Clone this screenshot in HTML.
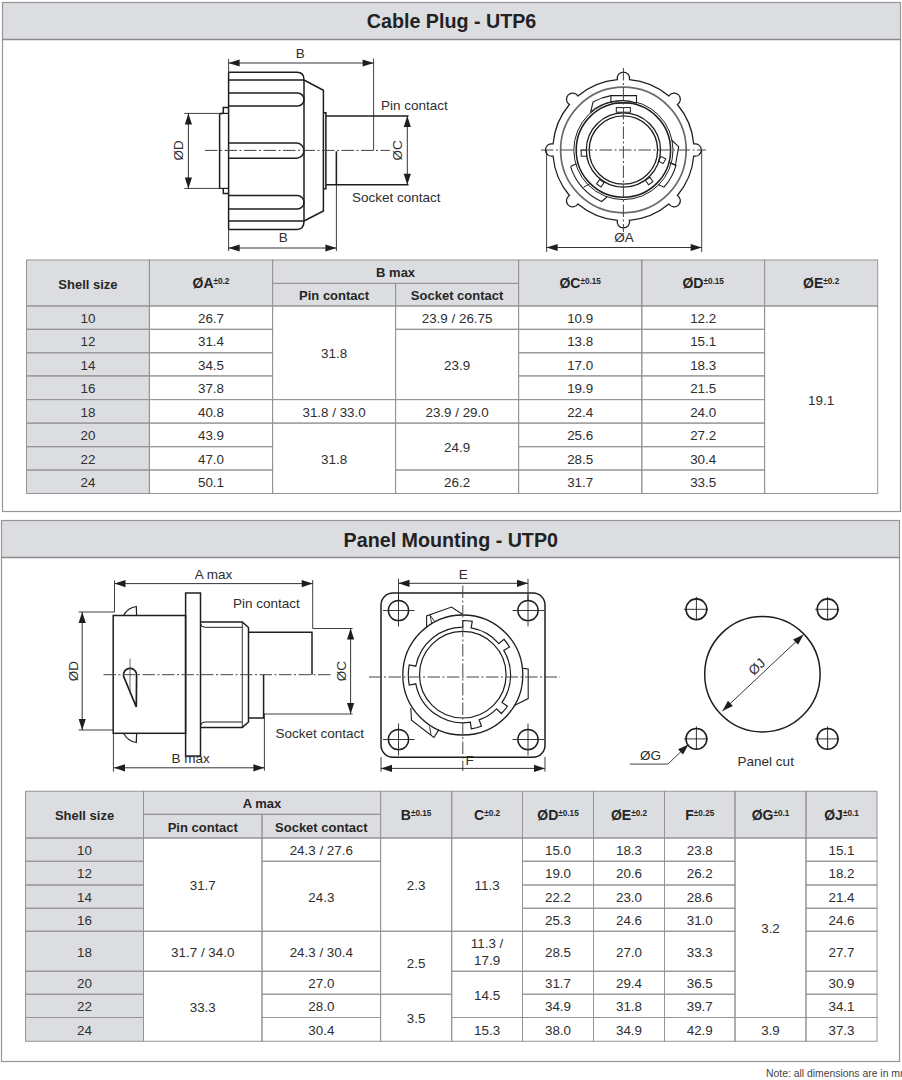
<!DOCTYPE html>
<html><head><meta charset="utf-8"><style>
html,body{margin:0;padding:0;background:#fff;width:902px;height:1080px;overflow:hidden}
svg{display:block;font-family:"Liberation Sans", sans-serif}
</style></head><body>
<svg width="902" height="1080" viewBox="0 0 902 1080">
<rect x="0" y="0" width="902" height="1080" fill="#fff" stroke="none" stroke-width="1" rx="0" />
<rect x="2.5" y="2.5" width="898" height="37" fill="#dcdde0" stroke="none" stroke-width="1" rx="0" />
<rect x="2.5" y="2.5" width="898" height="509" fill="none" stroke="#969696" stroke-width="1.2" rx="0" />
<line x1="2.5" y1="39.5" x2="900.5" y2="39.5" stroke="#8a8a8a" stroke-width="1.3" />
<text x="451.5" y="28" font-size="19.7" font-weight="700" text-anchor="middle" fill="#222" >Cable Plug - UTP6</text>
<rect x="1.5" y="520.5" width="898" height="37" fill="#dcdde0" stroke="none" stroke-width="1" rx="0" />
<rect x="1.5" y="520.5" width="898" height="541" fill="none" stroke="#969696" stroke-width="1.2" rx="0" />
<line x1="1.5" y1="557.5" x2="899.5" y2="557.5" stroke="#8a8a8a" stroke-width="1.3" />
<text x="450.8" y="546.5" font-size="19.7" font-weight="700" text-anchor="middle" fill="#222" >Panel Mounting - UTP0</text>
<path d="M219.6,188.4 L219.6,114.4 Q219.6,113.4 220.6,113.4 L223.3,113.4" stroke="#1e1e1e" stroke-width="1.5" fill="none" />
<path d="M223.3,113.4 L223.3,107.6 L228.6,107.6" stroke="#1e1e1e" stroke-width="1.5" fill="none" />
<path d="M223.3,188.4 L223.3,193.5 L228.6,193.5" stroke="#1e1e1e" stroke-width="1.5" fill="none" />
<line x1="219.6" y1="188.4" x2="228.6" y2="188.4" stroke="#1e1e1e" stroke-width="1.2" />
<line x1="220.6" y1="113.4" x2="228.6" y2="113.4" stroke="#1e1e1e" stroke-width="1.2" />
<line x1="228.6" y1="72.3" x2="228.6" y2="229.4" stroke="#1e1e1e" stroke-width="1.5" />
<path d="M228.6,72.3 L297,72.3 Q304,72.3 304,80 L228.6,80" stroke="#1e1e1e" stroke-width="1.5" fill="none" />
<path d="M228.6,229.4 L297,229.4 Q304,229.4 304,221 L228.6,221" stroke="#1e1e1e" stroke-width="1.5" fill="none" />
<path d="M228.6,93 L297.5,93 A6.5,6.5 0 0 1 297.5,106 L228.6,106" stroke="#1e1e1e" stroke-width="1.5" fill="none" />
<path d="M228.6,143 L296.35,143 A7.65,7.65 0 0 1 296.35,158.3 L228.6,158.3" stroke="#1e1e1e" stroke-width="1.5" fill="none" />
<path d="M228.6,195.5 L297.25,195.5 A6.75,6.75 0 0 1 297.25,209 L228.6,209" stroke="#1e1e1e" stroke-width="1.5" fill="none" />
<line x1="304" y1="80" x2="304" y2="221" stroke="#1e1e1e" stroke-width="1.5" />
<path d="M304,80 L323.4,90.3 L323.4,211 L304,221" stroke="#1e1e1e" stroke-width="1.5" fill="none" />
<path d="M323.4,112.7 L325.9,112.7 L325.9,188.8 L323.4,188.8" stroke="#1e1e1e" stroke-width="1.5" fill="none" />
<line x1="325.9" y1="116" x2="408.5" y2="116" stroke="#1e1e1e" stroke-width="1.5" />
<line x1="325.9" y1="184.7" x2="408.5" y2="184.7" stroke="#1e1e1e" stroke-width="1.5" />
<line x1="373.6" y1="58.6" x2="373.6" y2="150.4" stroke="#1e1e1e" stroke-width="0.85" />
<line x1="336.4" y1="151.5" x2="336.4" y2="251" stroke="#1e1e1e" stroke-width="0.85" />
<line x1="336.4" y1="151.5" x2="336.4" y2="184.7" stroke="#1e1e1e" stroke-width="1.5" />
<line x1="205" y1="150.4" x2="390" y2="150.4" stroke="#444" stroke-width="1.0" stroke-dasharray="12.5 2.5 2 2.5"/>
<line x1="184.3" y1="113.4" x2="219.6" y2="113.4" stroke="#1e1e1e" stroke-width="0.85" />
<line x1="184.3" y1="188.4" x2="219.6" y2="188.4" stroke="#1e1e1e" stroke-width="0.85" />
<line x1="188.4" y1="113.4" x2="188.4" y2="188.4" stroke="#1e1e1e" stroke-width="0.9" />
<path d="M188.4,113.4 L192,124.4 L184.8,124.4 Z" fill="#1e1e1e" stroke="none"/>
<path d="M188.4,188.4 L184.8,177.4 L192,177.4 Z" fill="#1e1e1e" stroke="none"/>
<text x="183.2" y="150.4" font-size="13.5" font-weight="400" text-anchor="middle" fill="#2e2e2e" transform="rotate(-90 183.2 150.4)">ØD</text>
<line x1="407.3" y1="116" x2="407.3" y2="184.7" stroke="#1e1e1e" stroke-width="0.9" />
<path d="M407.3,116 L410.9,127 L403.7,127 Z" fill="#1e1e1e" stroke="none"/>
<path d="M407.3,184.7 L403.7,173.7 L410.9,173.7 Z" fill="#1e1e1e" stroke="none"/>
<text x="402.2" y="150.4" font-size="13.5" font-weight="400" text-anchor="middle" fill="#2e2e2e" transform="rotate(-90 402.2 150.4)">ØC</text>
<line x1="228.6" y1="59" x2="228.6" y2="72.3" stroke="#1e1e1e" stroke-width="0.85" />
<line x1="228.6" y1="63" x2="373.6" y2="63" stroke="#1e1e1e" stroke-width="0.9" />
<path d="M228.6,63 L239.6,59.4 L239.6,66.6 Z" fill="#1e1e1e" stroke="none"/>
<path d="M373.6,63 L362.6,66.6 L362.6,59.4 Z" fill="#1e1e1e" stroke="none"/>
<text x="300.2" y="58" font-size="13.5" font-weight="400" text-anchor="middle" fill="#2e2e2e" >B</text>
<line x1="228.6" y1="229.4" x2="228.6" y2="251" stroke="#1e1e1e" stroke-width="0.85" />
<line x1="228.6" y1="248" x2="336.4" y2="248" stroke="#1e1e1e" stroke-width="0.9" />
<path d="M228.6,248 L239.6,244.4 L239.6,251.6 Z" fill="#1e1e1e" stroke="none"/>
<path d="M336.4,248 L325.4,251.6 L325.4,244.4 Z" fill="#1e1e1e" stroke="none"/>
<text x="283.3" y="241.6" font-size="13.5" font-weight="400" text-anchor="middle" fill="#2e2e2e" >B</text>
<text x="381" y="110" font-size="13.5" font-weight="400" text-anchor="start" fill="#2e2e2e" >Pin contact</text>
<text x="352" y="201.7" font-size="13.5" font-weight="400" text-anchor="start" fill="#2e2e2e" >Socket contact</text>
<path d="M617.37,79.66 A6.2,6.2 0 1 1 629.43,79.66 A70.6,70.6 0 0 1 668.88,96 A6.2,6.2 0 1 1 677.4,104.52 A70.6,70.6 0 0 1 693.74,143.97 A6.2,6.2 0 1 1 693.74,156.03 A70.6,70.6 0 0 1 677.4,195.48 A6.2,6.2 0 1 1 668.88,204 A70.6,70.6 0 0 1 629.43,220.34 A6.2,6.2 0 1 1 617.37,220.34 A70.6,70.6 0 0 1 577.92,204 A6.2,6.2 0 1 1 569.4,195.48 A70.6,70.6 0 0 1 553.06,156.03 A6.2,6.2 0 1 1 553.06,143.97 A70.6,70.6 0 0 1 569.4,104.52 A6.2,6.2 0 1 1 577.92,96 A70.6,70.6 0 0 1 617.37,79.66 Z" stroke="#1e1e1e" stroke-width="1.25" fill="none" />
<circle cx="623.4" cy="150" r="62.8" stroke="#6a6a6a" stroke-width="1.7" fill="none" />
<circle cx="623.4" cy="150" r="49.6" stroke="#1e1e1e" stroke-width="1.0" fill="none" />
<circle cx="623.4" cy="150" r="37.1" stroke="#1e1e1e" stroke-width="1.3" fill="none" />
<circle cx="623.4" cy="150" r="34.2" stroke="#1e1e1e" stroke-width="1.3" fill="none" />
<path d="M590.7,111.8 L593,102 A55,55 0 0 1 610.9,95.6 L636.5,95.6 L636.5,103 A48,48 0 0 0 590.7,111.8 Z" stroke="#1e1e1e" stroke-width="1.1" fill="#fff" />
<circle cx="623.4" cy="150" r="47.2" stroke="#1e1e1e" stroke-width="1.5" fill="none" />
<line x1="610.9" y1="95.6" x2="610.9" y2="103" stroke="#1e1e1e" stroke-width="1.1" />
<line x1="610.9" y1="103" x2="636.5" y2="103" stroke="#1e1e1e" stroke-width="1.0" />
<rect x="616.3" y="107.6" width="14.1" height="4.6" fill="none" stroke="#1e1e1e" stroke-width="1.0" rx="0" />
<rect x="581.2" y="150.2" width="5.3" height="6" fill="none" stroke="#1e1e1e" stroke-width="1.0" rx="0" />
<rect x="597.6" y="180.5" width="5.4" height="5.4" fill="none" stroke="#1e1e1e" stroke-width="1.0" rx="0" transform="rotate(35 600.3 183.2)"/>
<rect x="646.5" y="178.3" width="5.4" height="5.4" fill="none" stroke="#1e1e1e" stroke-width="1.0" rx="0" transform="rotate(-35 649.2 181)"/>
<rect x="659.4" y="157.3" width="5.4" height="5.4" fill="none" stroke="#1e1e1e" stroke-width="1.0" rx="0" transform="rotate(-60 662.1 160)"/>
<path d="M570.6,166.6 L576.3,163.7 M570.6,166.6 A56,56 0 0 0 601.52,201.55 L606.9,197.2" stroke="#1e1e1e" stroke-width="1.1" fill="none" />
<line x1="583.6" y1="187.2" x2="589.6" y2="183.9" stroke="#1e1e1e" stroke-width="1.0" />
<path d="M670,162.6 L676,165.3 A56,56 0 0 1 664,187.2 L658,184.6" stroke="#1e1e1e" stroke-width="1.1" fill="none" />
<path d="M671.4,140 L678.7,146.7 L675.4,165.3 L670.8,163.3" stroke="#1e1e1e" stroke-width="1.1" fill="none" />
<line x1="623.4" y1="68" x2="623.4" y2="232" stroke="#444" stroke-width="1.0" stroke-dasharray="12.5 2.5 2 2.5"/>
<line x1="541" y1="150" x2="706" y2="150" stroke="#444" stroke-width="1.0" stroke-dasharray="12.5 2.5 2 2.5"/>
<line x1="546.6" y1="150" x2="546.6" y2="252" stroke="#1e1e1e" stroke-width="0.85" />
<line x1="701.7" y1="150" x2="701.7" y2="252" stroke="#1e1e1e" stroke-width="0.85" />
<line x1="546.6" y1="247.5" x2="701.7" y2="247.5" stroke="#1e1e1e" stroke-width="0.9" />
<path d="M546.6,247.5 L557.6,243.9 L557.6,251.1 Z" fill="#1e1e1e" stroke="none"/>
<path d="M701.7,247.5 L690.7,251.1 L690.7,243.9 Z" fill="#1e1e1e" stroke="none"/>
<text x="624" y="241.5" font-size="13.5" font-weight="400" text-anchor="middle" fill="#2e2e2e" >ØA</text>
<rect x="26.5" y="260" width="851.2" height="46" fill="#dcdde0" stroke="none" stroke-width="1" rx="0" />
<rect x="26.5" y="306" width="122.9" height="187.5" fill="#dcdde0" stroke="none" stroke-width="1" rx="0" />
<rect x="26.5" y="260" width="122.9" height="46" fill="none" stroke="#949494" stroke-width="1.0" rx="0" />
<rect x="149.4" y="260" width="123.2" height="46" fill="none" stroke="#949494" stroke-width="1.0" rx="0" />
<rect x="272.6" y="260" width="246" height="23.4" fill="none" stroke="#949494" stroke-width="1.0" rx="0" />
<rect x="272.6" y="283.4" width="123" height="22.6" fill="none" stroke="#949494" stroke-width="1.0" rx="0" />
<rect x="395.6" y="283.4" width="123" height="22.6" fill="none" stroke="#949494" stroke-width="1.0" rx="0" />
<rect x="518.6" y="260" width="123.2" height="46" fill="none" stroke="#949494" stroke-width="1.0" rx="0" />
<rect x="641.8" y="260" width="122.8" height="46" fill="none" stroke="#949494" stroke-width="1.0" rx="0" />
<rect x="764.6" y="260" width="113.1" height="46" fill="none" stroke="#949494" stroke-width="1.0" rx="0" />
<rect x="26.5" y="306" width="122.9" height="23.3" fill="none" stroke="#949494" stroke-width="1.0" rx="0" />
<rect x="149.4" y="306" width="123.2" height="23.3" fill="none" stroke="#949494" stroke-width="1.0" rx="0" />
<rect x="518.6" y="306" width="123.2" height="23.3" fill="none" stroke="#949494" stroke-width="1.0" rx="0" />
<rect x="641.8" y="306" width="122.8" height="23.3" fill="none" stroke="#949494" stroke-width="1.0" rx="0" />
<rect x="26.5" y="329.3" width="122.9" height="23.5" fill="none" stroke="#949494" stroke-width="1.0" rx="0" />
<rect x="149.4" y="329.3" width="123.2" height="23.5" fill="none" stroke="#949494" stroke-width="1.0" rx="0" />
<rect x="518.6" y="329.3" width="123.2" height="23.5" fill="none" stroke="#949494" stroke-width="1.0" rx="0" />
<rect x="641.8" y="329.3" width="122.8" height="23.5" fill="none" stroke="#949494" stroke-width="1.0" rx="0" />
<rect x="26.5" y="352.8" width="122.9" height="23.1" fill="none" stroke="#949494" stroke-width="1.0" rx="0" />
<rect x="149.4" y="352.8" width="123.2" height="23.1" fill="none" stroke="#949494" stroke-width="1.0" rx="0" />
<rect x="518.6" y="352.8" width="123.2" height="23.1" fill="none" stroke="#949494" stroke-width="1.0" rx="0" />
<rect x="641.8" y="352.8" width="122.8" height="23.1" fill="none" stroke="#949494" stroke-width="1.0" rx="0" />
<rect x="26.5" y="375.9" width="122.9" height="23.7" fill="none" stroke="#949494" stroke-width="1.0" rx="0" />
<rect x="149.4" y="375.9" width="123.2" height="23.7" fill="none" stroke="#949494" stroke-width="1.0" rx="0" />
<rect x="518.6" y="375.9" width="123.2" height="23.7" fill="none" stroke="#949494" stroke-width="1.0" rx="0" />
<rect x="641.8" y="375.9" width="122.8" height="23.7" fill="none" stroke="#949494" stroke-width="1.0" rx="0" />
<rect x="26.5" y="399.6" width="122.9" height="23.5" fill="none" stroke="#949494" stroke-width="1.0" rx="0" />
<rect x="149.4" y="399.6" width="123.2" height="23.5" fill="none" stroke="#949494" stroke-width="1.0" rx="0" />
<rect x="518.6" y="399.6" width="123.2" height="23.5" fill="none" stroke="#949494" stroke-width="1.0" rx="0" />
<rect x="641.8" y="399.6" width="122.8" height="23.5" fill="none" stroke="#949494" stroke-width="1.0" rx="0" />
<rect x="26.5" y="423.1" width="122.9" height="23.6" fill="none" stroke="#949494" stroke-width="1.0" rx="0" />
<rect x="149.4" y="423.1" width="123.2" height="23.6" fill="none" stroke="#949494" stroke-width="1.0" rx="0" />
<rect x="518.6" y="423.1" width="123.2" height="23.6" fill="none" stroke="#949494" stroke-width="1.0" rx="0" />
<rect x="641.8" y="423.1" width="122.8" height="23.6" fill="none" stroke="#949494" stroke-width="1.0" rx="0" />
<rect x="26.5" y="446.7" width="122.9" height="23.3" fill="none" stroke="#949494" stroke-width="1.0" rx="0" />
<rect x="149.4" y="446.7" width="123.2" height="23.3" fill="none" stroke="#949494" stroke-width="1.0" rx="0" />
<rect x="518.6" y="446.7" width="123.2" height="23.3" fill="none" stroke="#949494" stroke-width="1.0" rx="0" />
<rect x="641.8" y="446.7" width="122.8" height="23.3" fill="none" stroke="#949494" stroke-width="1.0" rx="0" />
<rect x="26.5" y="470" width="122.9" height="23.5" fill="none" stroke="#949494" stroke-width="1.0" rx="0" />
<rect x="149.4" y="470" width="123.2" height="23.5" fill="none" stroke="#949494" stroke-width="1.0" rx="0" />
<rect x="518.6" y="470" width="123.2" height="23.5" fill="none" stroke="#949494" stroke-width="1.0" rx="0" />
<rect x="641.8" y="470" width="122.8" height="23.5" fill="none" stroke="#949494" stroke-width="1.0" rx="0" />
<rect x="272.6" y="306" width="123" height="93.6" fill="none" stroke="#949494" stroke-width="1.0" rx="0" />
<rect x="272.6" y="399.6" width="123" height="23.5" fill="none" stroke="#949494" stroke-width="1.0" rx="0" />
<rect x="272.6" y="423.1" width="123" height="70.4" fill="none" stroke="#949494" stroke-width="1.0" rx="0" />
<rect x="395.6" y="306" width="123" height="23.3" fill="none" stroke="#949494" stroke-width="1.0" rx="0" />
<rect x="395.6" y="329.3" width="123" height="70.3" fill="none" stroke="#949494" stroke-width="1.0" rx="0" />
<rect x="395.6" y="399.6" width="123" height="23.5" fill="none" stroke="#949494" stroke-width="1.0" rx="0" />
<rect x="395.6" y="423.1" width="123" height="46.9" fill="none" stroke="#949494" stroke-width="1.0" rx="0" />
<rect x="395.6" y="470" width="123" height="23.5" fill="none" stroke="#949494" stroke-width="1.0" rx="0" />
<rect x="764.6" y="306" width="113.1" height="187.5" fill="none" stroke="#949494" stroke-width="1.0" rx="0" />
<text x="87.95" y="288.5" font-size="13" font-weight="700" text-anchor="middle" fill="#262626" >Shell size</text>
<text x="211" y="288.4" font-size="14" font-weight="700" text-anchor="middle" fill="#262626" >ØA<tspan font-size="8.2" dy="-4.4">±0.2</tspan></text>
<text x="395.6" y="277.2" font-size="13" font-weight="700" text-anchor="middle" fill="#262626" >B max</text>
<text x="334.1" y="300.2" font-size="13" font-weight="700" text-anchor="middle" fill="#262626" >Pin contact</text>
<text x="457.1" y="300.2" font-size="13" font-weight="700" text-anchor="middle" fill="#262626" >Socket contact</text>
<text x="580.2" y="288.4" font-size="14" font-weight="700" text-anchor="middle" fill="#262626" >ØC<tspan font-size="8.2" dy="-4.4">±0.15</tspan></text>
<text x="703.2" y="288.4" font-size="14" font-weight="700" text-anchor="middle" fill="#262626" >ØD<tspan font-size="8.2" dy="-4.4">±0.15</tspan></text>
<text x="821.15" y="288.4" font-size="14" font-weight="700" text-anchor="middle" fill="#262626" >ØE<tspan font-size="8.2" dy="-4.4">±0.2</tspan></text>
<text x="87.95" y="322.95" font-size="13.4" font-weight="400" text-anchor="middle" fill="#2e2e2e" >10</text>
<text x="211" y="322.95" font-size="13.4" font-weight="400" text-anchor="middle" fill="#2e2e2e" >26.7</text>
<text x="580.2" y="322.95" font-size="13.4" font-weight="400" text-anchor="middle" fill="#2e2e2e" >10.9</text>
<text x="703.2" y="322.95" font-size="13.4" font-weight="400" text-anchor="middle" fill="#2e2e2e" >12.2</text>
<text x="87.95" y="346.35" font-size="13.4" font-weight="400" text-anchor="middle" fill="#2e2e2e" >12</text>
<text x="211" y="346.35" font-size="13.4" font-weight="400" text-anchor="middle" fill="#2e2e2e" >31.4</text>
<text x="580.2" y="346.35" font-size="13.4" font-weight="400" text-anchor="middle" fill="#2e2e2e" >13.8</text>
<text x="703.2" y="346.35" font-size="13.4" font-weight="400" text-anchor="middle" fill="#2e2e2e" >15.1</text>
<text x="87.95" y="369.65" font-size="13.4" font-weight="400" text-anchor="middle" fill="#2e2e2e" >14</text>
<text x="211" y="369.65" font-size="13.4" font-weight="400" text-anchor="middle" fill="#2e2e2e" >34.5</text>
<text x="580.2" y="369.65" font-size="13.4" font-weight="400" text-anchor="middle" fill="#2e2e2e" >17.0</text>
<text x="703.2" y="369.65" font-size="13.4" font-weight="400" text-anchor="middle" fill="#2e2e2e" >18.3</text>
<text x="87.95" y="393.05" font-size="13.4" font-weight="400" text-anchor="middle" fill="#2e2e2e" >16</text>
<text x="211" y="393.05" font-size="13.4" font-weight="400" text-anchor="middle" fill="#2e2e2e" >37.8</text>
<text x="580.2" y="393.05" font-size="13.4" font-weight="400" text-anchor="middle" fill="#2e2e2e" >19.9</text>
<text x="703.2" y="393.05" font-size="13.4" font-weight="400" text-anchor="middle" fill="#2e2e2e" >21.5</text>
<text x="87.95" y="416.65" font-size="13.4" font-weight="400" text-anchor="middle" fill="#2e2e2e" >18</text>
<text x="211" y="416.65" font-size="13.4" font-weight="400" text-anchor="middle" fill="#2e2e2e" >40.8</text>
<text x="580.2" y="416.65" font-size="13.4" font-weight="400" text-anchor="middle" fill="#2e2e2e" >22.4</text>
<text x="703.2" y="416.65" font-size="13.4" font-weight="400" text-anchor="middle" fill="#2e2e2e" >24.0</text>
<text x="87.95" y="440.2" font-size="13.4" font-weight="400" text-anchor="middle" fill="#2e2e2e" >20</text>
<text x="211" y="440.2" font-size="13.4" font-weight="400" text-anchor="middle" fill="#2e2e2e" >43.9</text>
<text x="580.2" y="440.2" font-size="13.4" font-weight="400" text-anchor="middle" fill="#2e2e2e" >25.6</text>
<text x="703.2" y="440.2" font-size="13.4" font-weight="400" text-anchor="middle" fill="#2e2e2e" >27.2</text>
<text x="87.95" y="463.65" font-size="13.4" font-weight="400" text-anchor="middle" fill="#2e2e2e" >22</text>
<text x="211" y="463.65" font-size="13.4" font-weight="400" text-anchor="middle" fill="#2e2e2e" >47.0</text>
<text x="580.2" y="463.65" font-size="13.4" font-weight="400" text-anchor="middle" fill="#2e2e2e" >28.5</text>
<text x="703.2" y="463.65" font-size="13.4" font-weight="400" text-anchor="middle" fill="#2e2e2e" >30.4</text>
<text x="87.95" y="487.05" font-size="13.4" font-weight="400" text-anchor="middle" fill="#2e2e2e" >24</text>
<text x="211" y="487.05" font-size="13.4" font-weight="400" text-anchor="middle" fill="#2e2e2e" >50.1</text>
<text x="580.2" y="487.05" font-size="13.4" font-weight="400" text-anchor="middle" fill="#2e2e2e" >31.7</text>
<text x="703.2" y="487.05" font-size="13.4" font-weight="400" text-anchor="middle" fill="#2e2e2e" >33.5</text>
<text x="334.1" y="358.1" font-size="13.4" font-weight="400" text-anchor="middle" fill="#2e2e2e" >31.8</text>
<text x="334.1" y="416.65" font-size="13.4" font-weight="400" text-anchor="middle" fill="#2e2e2e" >31.8 / 33.0</text>
<text x="334.1" y="463.6" font-size="13.4" font-weight="400" text-anchor="middle" fill="#2e2e2e" >31.8</text>
<text x="457.1" y="322.95" font-size="13.4" font-weight="400" text-anchor="middle" fill="#2e2e2e" >23.9 / 26.75</text>
<text x="457.1" y="369.75" font-size="13.4" font-weight="400" text-anchor="middle" fill="#2e2e2e" >23.9</text>
<text x="457.1" y="416.65" font-size="13.4" font-weight="400" text-anchor="middle" fill="#2e2e2e" >23.9 / 29.0</text>
<text x="457.1" y="451.85" font-size="13.4" font-weight="400" text-anchor="middle" fill="#2e2e2e" >24.9</text>
<text x="457.1" y="487.05" font-size="13.4" font-weight="400" text-anchor="middle" fill="#2e2e2e" >26.2</text>
<text x="821.15" y="405.05" font-size="13.4" font-weight="400" text-anchor="middle" fill="#2e2e2e" >19.1</text>
<rect x="113.2" y="615.5" width="72.4" height="117.8" fill="none" stroke="#1e1e1e" stroke-width="1.5" rx="0" />
<rect x="185.6" y="593" width="14.9" height="163" fill="none" stroke="#1e1e1e" stroke-width="1.5" rx="0" />
<path d="M200.5,622 L242.3,622 L248.5,627.5 L248.5,722 L242.3,727.4 L200.5,727.4" stroke="#1e1e1e" stroke-width="1.5" fill="none" />
<path d="M200.5,623.5 Q201,627.3 205,627.3 L242.3,627.3" stroke="#1e1e1e" stroke-width="1.0" fill="none" />
<path d="M200.5,725.8 Q201,722 205,722 L242.3,722" stroke="#1e1e1e" stroke-width="1.0" fill="none" />
<line x1="242.3" y1="622" x2="242.3" y2="727.4" stroke="#1e1e1e" stroke-width="0.9" />
<path d="M248.5,632.2 L312,632.2 L312,674.7" stroke="#1e1e1e" stroke-width="1.5" fill="none" />
<path d="M248.5,718 L263.6,718 L263.6,674.7" stroke="#1e1e1e" stroke-width="1.5" fill="none" />
<path d="M123.5,615.5 Q128,607.5 136.3,606.5 L136.6,615.5" stroke="#1e1e1e" stroke-width="1.2" fill="none" />
<path d="M123.5,733.3 Q128,741.5 136.3,742.5 L136.6,733.3" stroke="#1e1e1e" stroke-width="1.2" fill="none" />
<path d="M136.3,707 L136.6,674 A6.5,6.5 0 1 0 123.5,676 Z" stroke="#1e1e1e" stroke-width="1.7" fill="none" />
<line x1="130" y1="658.5" x2="130" y2="694" stroke="#444" stroke-width="0.8" />
<line x1="103.5" y1="674.7" x2="331" y2="674.7" stroke="#444" stroke-width="1.0" stroke-dasharray="12.5 2.5 2 2.5"/>
<path d="M78.6,612 L114.5,612 L114.5,580.4" stroke="#1e1e1e" stroke-width="0.85" fill="none" />
<path d="M312.7,580 L312.7,628.5 L352.6,628.5" stroke="#1e1e1e" stroke-width="0.85" fill="none" />
<line x1="114.5" y1="583.6" x2="312.7" y2="583.6" stroke="#1e1e1e" stroke-width="0.9" />
<path d="M114.5,583.6 L125.5,580 L125.5,587.2 Z" fill="#1e1e1e" stroke="none"/>
<path d="M312.7,583.6 L301.7,587.2 L301.7,580 Z" fill="#1e1e1e" stroke="none"/>
<text x="213.5" y="579" font-size="13.5" font-weight="400" text-anchor="middle" fill="#2e2e2e" >A max</text>
<line x1="78.6" y1="730" x2="113.2" y2="730" stroke="#1e1e1e" stroke-width="0.85" />
<line x1="82.2" y1="612" x2="82.2" y2="730" stroke="#1e1e1e" stroke-width="0.9" />
<path d="M82.2,612 L85.8,623 L78.6,623 Z" fill="#1e1e1e" stroke="none"/>
<path d="M82.2,730 L78.6,719 L85.8,719 Z" fill="#1e1e1e" stroke="none"/>
<text x="77.7" y="671" font-size="13.5" font-weight="400" text-anchor="middle" fill="#2e2e2e" transform="rotate(-90 77.7 671)">ØD</text>
<line x1="263.6" y1="714" x2="352.6" y2="714" stroke="#1e1e1e" stroke-width="0.85" />
<line x1="350.6" y1="628.5" x2="350.6" y2="714" stroke="#1e1e1e" stroke-width="0.9" />
<path d="M350.6,628.5 L354.2,639.5 L347,639.5 Z" fill="#1e1e1e" stroke="none"/>
<path d="M350.6,714 L347,703 L354.2,703 Z" fill="#1e1e1e" stroke="none"/>
<text x="346.3" y="671" font-size="13.5" font-weight="400" text-anchor="middle" fill="#2e2e2e" transform="rotate(-90 346.3 671)">ØC</text>
<line x1="113.4" y1="733.3" x2="113.4" y2="771.7" stroke="#1e1e1e" stroke-width="0.85" />
<line x1="264.4" y1="714" x2="264.4" y2="770.8" stroke="#1e1e1e" stroke-width="0.85" />
<line x1="114" y1="767.8" x2="264.4" y2="767.8" stroke="#1e1e1e" stroke-width="0.9" />
<path d="M114,767.8 L125,764.2 L125,771.4 Z" fill="#1e1e1e" stroke="none"/>
<path d="M264.4,767.8 L253.4,771.4 L253.4,764.2 Z" fill="#1e1e1e" stroke="none"/>
<text x="171.4" y="762.9" font-size="13.5" font-weight="400" text-anchor="start" fill="#2e2e2e" >B max</text>
<text x="233" y="608" font-size="13.5" font-weight="400" text-anchor="start" fill="#2e2e2e" >Pin contact</text>
<text x="275.4" y="737.8" font-size="13.5" font-weight="400" text-anchor="start" fill="#2e2e2e" >Socket contact</text>
<rect x="381" y="593" width="164" height="164.3" fill="none" stroke="#1e1e1e" stroke-width="1.5" rx="12" />
<circle cx="398.5" cy="610.5" r="10.1" stroke="#1e1e1e" stroke-width="1.45" fill="none" />
<line x1="383" y1="610.5" x2="414.5" y2="610.5" stroke="#222" stroke-width="0.9" />
<line x1="398.5" y1="594.5" x2="398.5" y2="626.5" stroke="#222" stroke-width="0.9" />
<circle cx="528" cy="610.5" r="10.1" stroke="#1e1e1e" stroke-width="1.45" fill="none" />
<line x1="512.5" y1="610.5" x2="544" y2="610.5" stroke="#222" stroke-width="0.9" />
<line x1="528" y1="594.5" x2="528" y2="626.5" stroke="#222" stroke-width="0.9" />
<circle cx="398.5" cy="739.5" r="10.1" stroke="#1e1e1e" stroke-width="1.45" fill="none" />
<line x1="383" y1="739.5" x2="414.5" y2="739.5" stroke="#222" stroke-width="0.9" />
<line x1="398.5" y1="723.5" x2="398.5" y2="755.5" stroke="#222" stroke-width="0.9" />
<circle cx="528" cy="739.5" r="10.1" stroke="#1e1e1e" stroke-width="1.45" fill="none" />
<line x1="512.5" y1="739.5" x2="544" y2="739.5" stroke="#222" stroke-width="0.9" />
<line x1="528" y1="723.5" x2="528" y2="755.5" stroke="#222" stroke-width="0.9" />
<circle cx="462.8" cy="675" r="60" stroke="#1e1e1e" stroke-width="1.3" fill="none" />
<path d="M470.28,722.21 L471.33,728.83 A54.5,54.5 0 0 0 481.44,726.21 L479.15,719.92 A47.8,47.8 0 0 0 496.6,708.8 L501.34,713.54 A54.5,54.5 0 0 0 507.44,706.26 L501.96,702.42 A47.8,47.8 0 0 0 503.77,650.38 L509.52,646.93 A54.5,54.5 0 0 0 503.93,639.24 L498.88,643.64 A47.8,47.8 0 0 0 471.1,627.93 L472.26,621.33 A54.5,54.5 0 0 0 462.8,620.5 L462.8,627.2 A47.8,47.8 0 0 0 415.82,666.21 L409.23,664.97 A54.5,54.5 0 0 0 409.23,685.03 L415.82,683.79 A47.8,47.8 0 0 0 470.28,722.21 Z" stroke="#1e1e1e" stroke-width="1.2" fill="none" />
<circle cx="462.8" cy="674.7" r="43.3" stroke="#1e1e1e" stroke-width="1.2" fill="none" />
<path d="M523.2,668.4 L528.2,669 L528.2,698.6 L513.8,705.8" stroke="#1e1e1e" stroke-width="1.1" fill="none" />
<path d="M426.6,626.8 L426.6,616 L451.5,607 L462.7,614.5" stroke="#1e1e1e" stroke-width="1.1" fill="none" />
<line x1="430.1" y1="615.2" x2="431.7" y2="623.7" stroke="#1e1e1e" stroke-width="0.9" />
<line x1="430.1" y1="615.2" x2="434.8" y2="621.8" stroke="#1e1e1e" stroke-width="0.9" />
<path d="M410.8,708 L411.5,720.2 L433.9,737.5 L438.9,729.6" stroke="#1e1e1e" stroke-width="1.1" fill="none" />
<line x1="429.5" y1="726.7" x2="431" y2="734.6" stroke="#1e1e1e" stroke-width="0.9" />
<line x1="462.8" y1="585.5" x2="462.8" y2="771" stroke="#444" stroke-width="1.0" stroke-dasharray="12.5 2.5 2 2.5"/>
<line x1="369" y1="677" x2="560" y2="677" stroke="#444" stroke-width="1.0" stroke-dasharray="12.5 2.5 2 2.5"/>
<line x1="398.5" y1="578.8" x2="398.5" y2="600" stroke="#1e1e1e" stroke-width="0.85" />
<line x1="528" y1="578.8" x2="528" y2="600" stroke="#1e1e1e" stroke-width="0.85" />
<line x1="398.5" y1="583.3" x2="528" y2="583.3" stroke="#1e1e1e" stroke-width="0.9" />
<path d="M398.5,583.3 L409.5,579.7 L409.5,586.9 Z" fill="#1e1e1e" stroke="none"/>
<path d="M528,583.3 L517,586.9 L517,579.7 Z" fill="#1e1e1e" stroke="none"/>
<text x="463.3" y="578.7" font-size="13.5" font-weight="400" text-anchor="middle" fill="#2e2e2e" >E</text>
<line x1="381" y1="757" x2="381" y2="771.7" stroke="#1e1e1e" stroke-width="0.85" />
<line x1="545" y1="757" x2="545" y2="771.7" stroke="#1e1e1e" stroke-width="0.85" />
<line x1="381" y1="768.4" x2="545" y2="768.4" stroke="#1e1e1e" stroke-width="0.9" />
<path d="M381,768.4 L392,764.8 L392,772 Z" fill="#1e1e1e" stroke="none"/>
<path d="M545,768.4 L534,772 L534,764.8 Z" fill="#1e1e1e" stroke="none"/>
<text x="469.7" y="765" font-size="13.5" font-weight="400" text-anchor="middle" fill="#2e2e2e" >F</text>
<circle cx="762.4" cy="674.2" r="57.7" stroke="#1e1e1e" stroke-width="1.5" fill="none" />
<circle cx="696.4" cy="609.3" r="10.4" stroke="#1e1e1e" stroke-width="1.6" fill="none" />
<line x1="683.9" y1="609.3" x2="707.9" y2="609.3" stroke="#1e1e1e" stroke-width="0.9" />
<line x1="696.4" y1="596.8" x2="696.4" y2="620.3" stroke="#1e1e1e" stroke-width="0.9" />
<circle cx="827.6" cy="609.3" r="10.4" stroke="#1e1e1e" stroke-width="1.6" fill="none" />
<line x1="815.1" y1="609.3" x2="839.1" y2="609.3" stroke="#1e1e1e" stroke-width="0.9" />
<line x1="827.6" y1="596.8" x2="827.6" y2="620.3" stroke="#1e1e1e" stroke-width="0.9" />
<circle cx="696.4" cy="738.9" r="10.4" stroke="#1e1e1e" stroke-width="1.6" fill="none" />
<line x1="683.9" y1="738.9" x2="707.9" y2="738.9" stroke="#1e1e1e" stroke-width="0.9" />
<line x1="696.4" y1="726.4" x2="696.4" y2="749.9" stroke="#1e1e1e" stroke-width="0.9" />
<circle cx="827.6" cy="738.9" r="10.4" stroke="#1e1e1e" stroke-width="1.6" fill="none" />
<line x1="815.1" y1="738.9" x2="839.1" y2="738.9" stroke="#1e1e1e" stroke-width="0.9" />
<line x1="827.6" y1="726.4" x2="827.6" y2="749.9" stroke="#1e1e1e" stroke-width="0.9" />
<line x1="722.4" y1="710.9" x2="803.6" y2="634.5" stroke="#1e1e1e" stroke-width="0.9" />
<path d="M722.4,710.9 L727.94,700.74 L732.88,705.98 Z" fill="#1e1e1e" stroke="none"/>
<path d="M803.6,634.5 L798.06,644.66 L793.12,639.42 Z" fill="#1e1e1e" stroke="none"/>
<text x="760" y="670" font-size="13.5" font-weight="400" text-anchor="middle" fill="#2e2e2e" transform="rotate(-43 760 670)">ØJ</text>
<path d="M630,764.1 L667.9,764.1 L687.9,745" stroke="#1e1e1e" stroke-width="0.85" fill="none" />
<path d="M688.5,744.4 L683,754.59 L678.05,749.37 Z" fill="#1e1e1e" stroke="none"/>
<text x="640" y="760" font-size="13.5" font-weight="400" text-anchor="start" fill="#2e2e2e" >ØG</text>
<text x="737.6" y="766.3" font-size="13.5" font-weight="400" text-anchor="start" fill="#2e2e2e" >Panel cut</text>
<rect x="25.5" y="791.25" width="851.5" height="46.75" fill="#dcdde0" stroke="none" stroke-width="1" rx="0" />
<rect x="25.5" y="838" width="118" height="203.25" fill="#dcdde0" stroke="none" stroke-width="1" rx="0" />
<rect x="25.5" y="791.25" width="118" height="46.75" fill="none" stroke="#949494" stroke-width="1.0" rx="0" />
<rect x="143.5" y="791.25" width="237.1" height="23.05" fill="none" stroke="#949494" stroke-width="1.0" rx="0" />
<rect x="143.5" y="814.3" width="118.5" height="23.7" fill="none" stroke="#949494" stroke-width="1.0" rx="0" />
<rect x="262" y="814.3" width="118.6" height="23.7" fill="none" stroke="#949494" stroke-width="1.0" rx="0" />
<rect x="380.6" y="791.25" width="71.1" height="46.75" fill="none" stroke="#949494" stroke-width="1.0" rx="0" />
<rect x="451.7" y="791.25" width="70.8" height="46.75" fill="none" stroke="#949494" stroke-width="1.0" rx="0" />
<rect x="522.5" y="791.25" width="71" height="46.75" fill="none" stroke="#949494" stroke-width="1.0" rx="0" />
<rect x="593.5" y="791.25" width="71" height="46.75" fill="none" stroke="#949494" stroke-width="1.0" rx="0" />
<rect x="664.5" y="791.25" width="70.5" height="46.75" fill="none" stroke="#949494" stroke-width="1.0" rx="0" />
<rect x="735" y="791.25" width="71" height="46.75" fill="none" stroke="#949494" stroke-width="1.0" rx="0" />
<rect x="806" y="791.25" width="71" height="46.75" fill="none" stroke="#949494" stroke-width="1.0" rx="0" />
<rect x="25.5" y="838" width="118" height="23.25" fill="none" stroke="#949494" stroke-width="1.0" rx="0" />
<rect x="522.5" y="838" width="71" height="23.25" fill="none" stroke="#949494" stroke-width="1.0" rx="0" />
<rect x="593.5" y="838" width="71" height="23.25" fill="none" stroke="#949494" stroke-width="1.0" rx="0" />
<rect x="664.5" y="838" width="70.5" height="23.25" fill="none" stroke="#949494" stroke-width="1.0" rx="0" />
<rect x="806" y="838" width="71" height="23.25" fill="none" stroke="#949494" stroke-width="1.0" rx="0" />
<rect x="25.5" y="861.25" width="118" height="23.75" fill="none" stroke="#949494" stroke-width="1.0" rx="0" />
<rect x="522.5" y="861.25" width="71" height="23.75" fill="none" stroke="#949494" stroke-width="1.0" rx="0" />
<rect x="593.5" y="861.25" width="71" height="23.75" fill="none" stroke="#949494" stroke-width="1.0" rx="0" />
<rect x="664.5" y="861.25" width="70.5" height="23.75" fill="none" stroke="#949494" stroke-width="1.0" rx="0" />
<rect x="806" y="861.25" width="71" height="23.75" fill="none" stroke="#949494" stroke-width="1.0" rx="0" />
<rect x="25.5" y="885" width="118" height="23.25" fill="none" stroke="#949494" stroke-width="1.0" rx="0" />
<rect x="522.5" y="885" width="71" height="23.25" fill="none" stroke="#949494" stroke-width="1.0" rx="0" />
<rect x="593.5" y="885" width="71" height="23.25" fill="none" stroke="#949494" stroke-width="1.0" rx="0" />
<rect x="664.5" y="885" width="70.5" height="23.25" fill="none" stroke="#949494" stroke-width="1.0" rx="0" />
<rect x="806" y="885" width="71" height="23.25" fill="none" stroke="#949494" stroke-width="1.0" rx="0" />
<rect x="25.5" y="908.25" width="118" height="23" fill="none" stroke="#949494" stroke-width="1.0" rx="0" />
<rect x="522.5" y="908.25" width="71" height="23" fill="none" stroke="#949494" stroke-width="1.0" rx="0" />
<rect x="593.5" y="908.25" width="71" height="23" fill="none" stroke="#949494" stroke-width="1.0" rx="0" />
<rect x="664.5" y="908.25" width="70.5" height="23" fill="none" stroke="#949494" stroke-width="1.0" rx="0" />
<rect x="806" y="908.25" width="71" height="23" fill="none" stroke="#949494" stroke-width="1.0" rx="0" />
<rect x="25.5" y="931.25" width="118" height="40" fill="none" stroke="#949494" stroke-width="1.0" rx="0" />
<rect x="522.5" y="931.25" width="71" height="40" fill="none" stroke="#949494" stroke-width="1.0" rx="0" />
<rect x="593.5" y="931.25" width="71" height="40" fill="none" stroke="#949494" stroke-width="1.0" rx="0" />
<rect x="664.5" y="931.25" width="70.5" height="40" fill="none" stroke="#949494" stroke-width="1.0" rx="0" />
<rect x="806" y="931.25" width="71" height="40" fill="none" stroke="#949494" stroke-width="1.0" rx="0" />
<rect x="25.5" y="971.25" width="118" height="23" fill="none" stroke="#949494" stroke-width="1.0" rx="0" />
<rect x="522.5" y="971.25" width="71" height="23" fill="none" stroke="#949494" stroke-width="1.0" rx="0" />
<rect x="593.5" y="971.25" width="71" height="23" fill="none" stroke="#949494" stroke-width="1.0" rx="0" />
<rect x="664.5" y="971.25" width="70.5" height="23" fill="none" stroke="#949494" stroke-width="1.0" rx="0" />
<rect x="806" y="971.25" width="71" height="23" fill="none" stroke="#949494" stroke-width="1.0" rx="0" />
<rect x="25.5" y="994.25" width="118" height="23.25" fill="none" stroke="#949494" stroke-width="1.0" rx="0" />
<rect x="522.5" y="994.25" width="71" height="23.25" fill="none" stroke="#949494" stroke-width="1.0" rx="0" />
<rect x="593.5" y="994.25" width="71" height="23.25" fill="none" stroke="#949494" stroke-width="1.0" rx="0" />
<rect x="664.5" y="994.25" width="70.5" height="23.25" fill="none" stroke="#949494" stroke-width="1.0" rx="0" />
<rect x="806" y="994.25" width="71" height="23.25" fill="none" stroke="#949494" stroke-width="1.0" rx="0" />
<rect x="25.5" y="1017.5" width="118" height="23.75" fill="none" stroke="#949494" stroke-width="1.0" rx="0" />
<rect x="522.5" y="1017.5" width="71" height="23.75" fill="none" stroke="#949494" stroke-width="1.0" rx="0" />
<rect x="593.5" y="1017.5" width="71" height="23.75" fill="none" stroke="#949494" stroke-width="1.0" rx="0" />
<rect x="664.5" y="1017.5" width="70.5" height="23.75" fill="none" stroke="#949494" stroke-width="1.0" rx="0" />
<rect x="806" y="1017.5" width="71" height="23.75" fill="none" stroke="#949494" stroke-width="1.0" rx="0" />
<rect x="143.5" y="838" width="118.5" height="93.25" fill="none" stroke="#949494" stroke-width="1.0" rx="0" />
<rect x="143.5" y="931.25" width="118.5" height="40" fill="none" stroke="#949494" stroke-width="1.0" rx="0" />
<rect x="143.5" y="971.25" width="118.5" height="70" fill="none" stroke="#949494" stroke-width="1.0" rx="0" />
<rect x="262" y="838" width="118.6" height="23.25" fill="none" stroke="#949494" stroke-width="1.0" rx="0" />
<rect x="262" y="861.25" width="118.6" height="70" fill="none" stroke="#949494" stroke-width="1.0" rx="0" />
<rect x="262" y="931.25" width="118.6" height="40" fill="none" stroke="#949494" stroke-width="1.0" rx="0" />
<rect x="262" y="971.25" width="118.6" height="23" fill="none" stroke="#949494" stroke-width="1.0" rx="0" />
<rect x="262" y="994.25" width="118.6" height="23.25" fill="none" stroke="#949494" stroke-width="1.0" rx="0" />
<rect x="262" y="1017.5" width="118.6" height="23.75" fill="none" stroke="#949494" stroke-width="1.0" rx="0" />
<rect x="380.6" y="838" width="71.1" height="93.25" fill="none" stroke="#949494" stroke-width="1.0" rx="0" />
<rect x="380.6" y="931.25" width="71.1" height="63" fill="none" stroke="#949494" stroke-width="1.0" rx="0" />
<rect x="380.6" y="994.25" width="71.1" height="47" fill="none" stroke="#949494" stroke-width="1.0" rx="0" />
<rect x="451.7" y="838" width="70.8" height="93.25" fill="none" stroke="#949494" stroke-width="1.0" rx="0" />
<rect x="451.7" y="931.25" width="70.8" height="40" fill="none" stroke="#949494" stroke-width="1.0" rx="0" />
<rect x="451.7" y="971.25" width="70.8" height="46.25" fill="none" stroke="#949494" stroke-width="1.0" rx="0" />
<rect x="451.7" y="1017.5" width="70.8" height="23.75" fill="none" stroke="#949494" stroke-width="1.0" rx="0" />
<rect x="735" y="838" width="71" height="179.5" fill="none" stroke="#949494" stroke-width="1.0" rx="0" />
<rect x="735" y="1017.5" width="71" height="23.75" fill="none" stroke="#949494" stroke-width="1.0" rx="0" />
<text x="84.5" y="820.12" font-size="13" font-weight="700" text-anchor="middle" fill="#262626" >Shell size</text>
<text x="262.05" y="808.27" font-size="13" font-weight="700" text-anchor="middle" fill="#262626" >A max</text>
<text x="202.75" y="831.65" font-size="13" font-weight="700" text-anchor="middle" fill="#262626" >Pin contact</text>
<text x="321.3" y="831.65" font-size="13" font-weight="700" text-anchor="middle" fill="#262626" >Socket contact</text>
<text x="416.15" y="820.02" font-size="14" font-weight="700" text-anchor="middle" fill="#262626" >B<tspan font-size="8.2" dy="-4.4">±0.15</tspan></text>
<text x="487.1" y="820.02" font-size="14" font-weight="700" text-anchor="middle" fill="#262626" >C<tspan font-size="8.2" dy="-4.4">±0.2</tspan></text>
<text x="558" y="820.02" font-size="14" font-weight="700" text-anchor="middle" fill="#262626" >ØD<tspan font-size="8.2" dy="-4.4">±0.15</tspan></text>
<text x="629" y="820.02" font-size="14" font-weight="700" text-anchor="middle" fill="#262626" >ØE<tspan font-size="8.2" dy="-4.4">±0.2</tspan></text>
<text x="699.75" y="820.02" font-size="14" font-weight="700" text-anchor="middle" fill="#262626" >F<tspan font-size="8.2" dy="-4.4">±0.25</tspan></text>
<text x="770.5" y="820.02" font-size="14" font-weight="700" text-anchor="middle" fill="#262626" >ØG<tspan font-size="8.2" dy="-4.4">±0.1</tspan></text>
<text x="841.5" y="820.02" font-size="14" font-weight="700" text-anchor="middle" fill="#262626" >ØJ<tspan font-size="8.2" dy="-4.4">±0.1</tspan></text>
<text x="84.5" y="854.92" font-size="13.4" font-weight="400" text-anchor="middle" fill="#2e2e2e" >10</text>
<text x="558" y="854.92" font-size="13.4" font-weight="400" text-anchor="middle" fill="#2e2e2e" >15.0</text>
<text x="629" y="854.92" font-size="13.4" font-weight="400" text-anchor="middle" fill="#2e2e2e" >18.3</text>
<text x="699.75" y="854.92" font-size="13.4" font-weight="400" text-anchor="middle" fill="#2e2e2e" >23.8</text>
<text x="841.5" y="854.92" font-size="13.4" font-weight="400" text-anchor="middle" fill="#2e2e2e" >15.1</text>
<text x="84.5" y="878.42" font-size="13.4" font-weight="400" text-anchor="middle" fill="#2e2e2e" >12</text>
<text x="558" y="878.42" font-size="13.4" font-weight="400" text-anchor="middle" fill="#2e2e2e" >19.0</text>
<text x="629" y="878.42" font-size="13.4" font-weight="400" text-anchor="middle" fill="#2e2e2e" >20.6</text>
<text x="699.75" y="878.42" font-size="13.4" font-weight="400" text-anchor="middle" fill="#2e2e2e" >26.2</text>
<text x="841.5" y="878.42" font-size="13.4" font-weight="400" text-anchor="middle" fill="#2e2e2e" >18.2</text>
<text x="84.5" y="901.92" font-size="13.4" font-weight="400" text-anchor="middle" fill="#2e2e2e" >14</text>
<text x="558" y="901.92" font-size="13.4" font-weight="400" text-anchor="middle" fill="#2e2e2e" >22.2</text>
<text x="629" y="901.92" font-size="13.4" font-weight="400" text-anchor="middle" fill="#2e2e2e" >23.0</text>
<text x="699.75" y="901.92" font-size="13.4" font-weight="400" text-anchor="middle" fill="#2e2e2e" >28.6</text>
<text x="841.5" y="901.92" font-size="13.4" font-weight="400" text-anchor="middle" fill="#2e2e2e" >21.4</text>
<text x="84.5" y="925.05" font-size="13.4" font-weight="400" text-anchor="middle" fill="#2e2e2e" >16</text>
<text x="558" y="925.05" font-size="13.4" font-weight="400" text-anchor="middle" fill="#2e2e2e" >25.3</text>
<text x="629" y="925.05" font-size="13.4" font-weight="400" text-anchor="middle" fill="#2e2e2e" >24.6</text>
<text x="699.75" y="925.05" font-size="13.4" font-weight="400" text-anchor="middle" fill="#2e2e2e" >31.0</text>
<text x="841.5" y="925.05" font-size="13.4" font-weight="400" text-anchor="middle" fill="#2e2e2e" >24.6</text>
<text x="84.5" y="956.55" font-size="13.4" font-weight="400" text-anchor="middle" fill="#2e2e2e" >18</text>
<text x="558" y="956.55" font-size="13.4" font-weight="400" text-anchor="middle" fill="#2e2e2e" >28.5</text>
<text x="629" y="956.55" font-size="13.4" font-weight="400" text-anchor="middle" fill="#2e2e2e" >27.0</text>
<text x="699.75" y="956.55" font-size="13.4" font-weight="400" text-anchor="middle" fill="#2e2e2e" >33.3</text>
<text x="841.5" y="956.55" font-size="13.4" font-weight="400" text-anchor="middle" fill="#2e2e2e" >27.7</text>
<text x="84.5" y="988.05" font-size="13.4" font-weight="400" text-anchor="middle" fill="#2e2e2e" >20</text>
<text x="558" y="988.05" font-size="13.4" font-weight="400" text-anchor="middle" fill="#2e2e2e" >31.7</text>
<text x="629" y="988.05" font-size="13.4" font-weight="400" text-anchor="middle" fill="#2e2e2e" >29.4</text>
<text x="699.75" y="988.05" font-size="13.4" font-weight="400" text-anchor="middle" fill="#2e2e2e" >36.5</text>
<text x="841.5" y="988.05" font-size="13.4" font-weight="400" text-anchor="middle" fill="#2e2e2e" >30.9</text>
<text x="84.5" y="1011.17" font-size="13.4" font-weight="400" text-anchor="middle" fill="#2e2e2e" >22</text>
<text x="558" y="1011.17" font-size="13.4" font-weight="400" text-anchor="middle" fill="#2e2e2e" >34.9</text>
<text x="629" y="1011.17" font-size="13.4" font-weight="400" text-anchor="middle" fill="#2e2e2e" >31.8</text>
<text x="699.75" y="1011.17" font-size="13.4" font-weight="400" text-anchor="middle" fill="#2e2e2e" >39.7</text>
<text x="841.5" y="1011.17" font-size="13.4" font-weight="400" text-anchor="middle" fill="#2e2e2e" >34.1</text>
<text x="84.5" y="1034.67" font-size="13.4" font-weight="400" text-anchor="middle" fill="#2e2e2e" >24</text>
<text x="558" y="1034.67" font-size="13.4" font-weight="400" text-anchor="middle" fill="#2e2e2e" >38.0</text>
<text x="629" y="1034.67" font-size="13.4" font-weight="400" text-anchor="middle" fill="#2e2e2e" >34.9</text>
<text x="699.75" y="1034.67" font-size="13.4" font-weight="400" text-anchor="middle" fill="#2e2e2e" >42.9</text>
<text x="841.5" y="1034.67" font-size="13.4" font-weight="400" text-anchor="middle" fill="#2e2e2e" >37.3</text>
<text x="202.75" y="889.92" font-size="13.4" font-weight="400" text-anchor="middle" fill="#2e2e2e" >31.7</text>
<text x="202.75" y="956.55" font-size="13.4" font-weight="400" text-anchor="middle" fill="#2e2e2e" >31.7 / 34.0</text>
<text x="202.75" y="1011.55" font-size="13.4" font-weight="400" text-anchor="middle" fill="#2e2e2e" >33.3</text>
<text x="321.3" y="854.92" font-size="13.4" font-weight="400" text-anchor="middle" fill="#2e2e2e" >24.3 / 27.6</text>
<text x="321.3" y="901.55" font-size="13.4" font-weight="400" text-anchor="middle" fill="#2e2e2e" >24.3</text>
<text x="321.3" y="956.55" font-size="13.4" font-weight="400" text-anchor="middle" fill="#2e2e2e" >24.3 / 30.4</text>
<text x="321.3" y="988.05" font-size="13.4" font-weight="400" text-anchor="middle" fill="#2e2e2e" >27.0</text>
<text x="321.3" y="1011.17" font-size="13.4" font-weight="400" text-anchor="middle" fill="#2e2e2e" >28.0</text>
<text x="321.3" y="1034.67" font-size="13.4" font-weight="400" text-anchor="middle" fill="#2e2e2e" >30.4</text>
<text x="416.15" y="889.92" font-size="13.4" font-weight="400" text-anchor="middle" fill="#2e2e2e" >2.3</text>
<text x="416.15" y="968.05" font-size="13.4" font-weight="400" text-anchor="middle" fill="#2e2e2e" >2.5</text>
<text x="416.15" y="1023.05" font-size="13.4" font-weight="400" text-anchor="middle" fill="#2e2e2e" >3.5</text>
<text x="487.1" y="889.92" font-size="13.4" font-weight="400" text-anchor="middle" fill="#2e2e2e" >11.3</text>
<text x="487.1" y="948.3" font-size="13.4" font-weight="400" text-anchor="middle" fill="#2e2e2e" >11.3 /</text>
<text x="487.1" y="964.8" font-size="13.4" font-weight="400" text-anchor="middle" fill="#2e2e2e" >17.9</text>
<text x="487.1" y="999.67" font-size="13.4" font-weight="400" text-anchor="middle" fill="#2e2e2e" >14.5</text>
<text x="487.1" y="1034.67" font-size="13.4" font-weight="400" text-anchor="middle" fill="#2e2e2e" >15.3</text>
<text x="770.5" y="933.05" font-size="13.4" font-weight="400" text-anchor="middle" fill="#2e2e2e" >3.2</text>
<text x="770.5" y="1034.67" font-size="13.4" font-weight="400" text-anchor="middle" fill="#2e2e2e" >3.9</text>
<text x="766" y="1077" font-size="10.4" font-weight="400" text-anchor="start" fill="#444" >Note: all dimensions are in mm</text>
</svg>
</body></html>
